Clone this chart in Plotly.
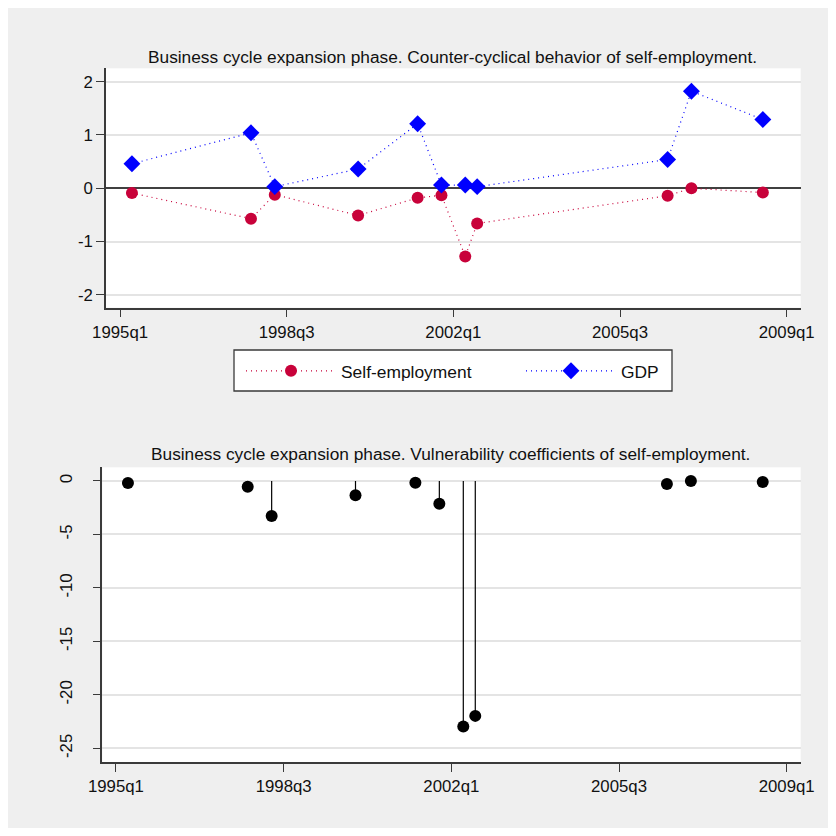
import plotly.graph_objects as go

# ---------------- data ----------------
quarters = ["1995q2", "1997q4", "1998q2", "2000q1", "2001q2", "2001q4",
            "2002q2", "2002q3", "2006q3", "2007q1", "2008q3"]
self_employment = [-0.09, -0.57, -0.12, -0.51, -0.18, -0.13, -1.28, -0.66, -0.14, 0.00, -0.08]
gdp = [0.46, 1.04, 0.03, 0.36, 1.21, 0.06, 0.06, 0.03, 0.54, 1.82, 1.29]
vulnerability = [-0.19, -0.53, -3.27, -1.34, -0.16, -2.12, -22.96, -21.96, -0.28, -0.01, -0.09]

tick_labels = ["1995q1", "1998q3", "2002q1", "2005q3", "2009q1"]
top_y_ticks = [-2, -1, 0, 1, 2]
bottom_y_ticks = [0, -5, -10, -15, -20, -25]

title_top = "Business cycle expansion phase. Counter-cyclical behavior of self-employment."
title_bottom = "Business cycle expansion phase. Vulnerability coefficients of self-employment."


def qindex(label):
    y, q = label.split("q")
    return (int(y) - 1995) * 4 + int(q) - 1


xq = [qindex(q) for q in quarters]
tick_vals = [qindex(t) for t in tick_labels]

# ---------------- style ----------------
OFF = 8          # page margin of the html body
W = H = 836 - 2 * OFF
FONT = "Liberation Sans, Arial, Helvetica, sans-serif"
BG = "#efefef"
RED = "#c8023a"
BLUE = "#0000ff"
AXIS = "#3a3a3a"
GRID = "#e4e4e4"


def px_x(p):
    return (p - OFF) / W


def px_y(p):
    return 1 - (p - OFF) / H


fig = go.Figure()

# top panel
fig.add_trace(go.Scatter(
    x=xq, y=self_employment, name="Self-employment", mode="lines+markers",
    line=dict(color=RED, width=1.2, dash="1px,4px"),
    marker=dict(symbol="circle", size=12, color=RED),
    xaxis="x", yaxis="y", legend="legend"))
fig.add_trace(go.Scatter(
    x=xq, y=gdp, name="GDP", mode="lines+markers",
    line=dict(color=BLUE, width=1.2, dash="1px,4px"),
    marker=dict(symbol="diamond", size=13, color=BLUE),
    xaxis="x", yaxis="y", legend="legend2"))

# bottom panel: spikes from zero
sx, sy = [], []
for xi, vi in zip(xq, vulnerability):
    sx += [xi, xi, None]
    sy += [0, vi, None]
fig.add_trace(go.Scatter(
    x=sx, y=sy, mode="lines", line=dict(color="black", width=1.2),
    showlegend=False, hoverinfo="skip", xaxis="x2", yaxis="y2"))
fig.add_trace(go.Scatter(
    x=xq, y=vulnerability, mode="markers",
    marker=dict(symbol="circle", size=12, color="black"),
    showlegend=False, xaxis="x2", yaxis="y2"))

axis_common = dict(
    showline=True, linecolor=AXIS, linewidth=1.5, automargin=False,
    ticks="outside", ticklen=8, tickwidth=1.3, tickcolor=AXIS,
    tickfont=dict(family=FONT, size=16.8, color="#111"),
)

fig.update_layout(
    template="none",
    width=W, height=H, autosize=False,
    margin=dict(l=0, r=0, t=0, b=0),
    paper_bgcolor=BG, plot_bgcolor="white",
    font=dict(family=FONT, color="#111"),
    xaxis=dict(domain=[px_x(106), px_x(800.7)], anchor="y",
               range=[-1.18, 57.18], tickvals=tick_vals, ticktext=tick_labels,
               showgrid=False, zeroline=False, **axis_common),
    yaxis=dict(domain=[px_y(307.7), px_y(68.3)], anchor="x",
               range=[-2.24, 2.25], tickvals=top_y_ticks,
               ticktext=[str(v) for v in top_y_ticks],
               showgrid=True, gridcolor=GRID, gridwidth=2,
               zeroline=True, zerolinecolor="#404040", zerolinewidth=2,
               **axis_common),
    xaxis2=dict(domain=[px_x(102.3), px_x(800.7)], anchor="y2",
                range=[-1.14, 57.17], tickvals=tick_vals, ticktext=tick_labels,
                showgrid=False, zeroline=False, **axis_common),
    yaxis2=dict(domain=[px_y(762.3), px_y(467.3)], anchor="x2",
                range=[-26.3, 1.28], tickvals=bottom_y_ticks,
                ticktext=[str(v) for v in bottom_y_ticks], tickangle=-90,
                ticklabelstandoff=14,
                showgrid=True, gridcolor=GRID, gridwidth=2, zeroline=False,
                **axis_common),
    legend=dict(orientation="h", x=px_x(241), xanchor="left",
                y=px_y(371), yanchor="middle", bgcolor="rgba(0,0,0,0)",
                borderwidth=0, itemwidth=90,
                font=dict(family=FONT, size=17.4, color="#111")),
    legend2=dict(orientation="h", x=px_x(521), xanchor="left",
                 y=px_y(371), yanchor="middle", bgcolor="rgba(0,0,0,0)",
                 borderwidth=0, itemwidth=90,
                 font=dict(family=FONT, size=17.4, color="#111")),
    shapes=[
        # legend frame
        dict(type="rect", xref="paper", yref="paper",
             x0=px_x(234), x1=px_x(672), y0=px_y(391), y1=px_y(350),
             fillcolor="white", line=dict(color=AXIS, width=1.3), layer="above"),
    ],
    annotations=[
        dict(text=title_top, xref="paper", yref="paper", x=px_x(452), y=px_y(57),
             xanchor="center", yanchor="middle", showarrow=False,
             font=dict(family=FONT, size=17.3, color="#111")),
        dict(text=title_bottom, xref="paper", yref="paper", x=px_x(450), y=px_y(454),
             xanchor="center", yanchor="middle", showarrow=False,
             font=dict(family=FONT, size=17.3, color="#111")),
    ],
)

fig.write_html("out.html")
